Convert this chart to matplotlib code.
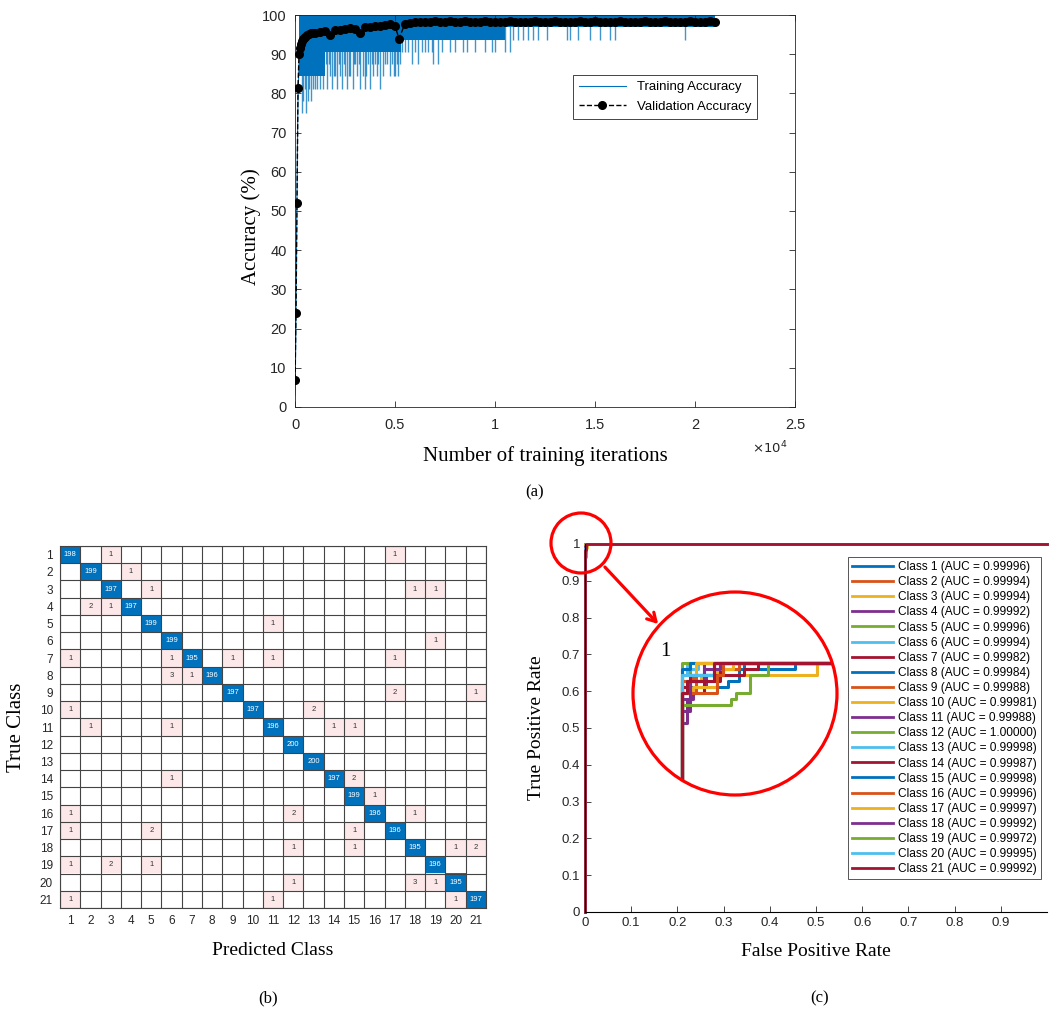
import matplotlib
matplotlib.use("Agg")
import numpy as np
import matplotlib.pyplot as plt
from matplotlib.patches import Ellipse, FancyArrowPatch
from matplotlib.lines import Line2D
from matplotlib.ticker import FuncFormatter

plt.rcParams['font.family'] = ['Liberation Sans', 'DejaVu Sans']
SERIF = ['Liberation Serif', 'DejaVu Serif']
TICK_COLOR = '#262626'
MATLAB_COLORS = ['#0072BD', '#D95319', '#EDB120', '#7E2F8E', '#77AC30', '#4DBEEE', '#A2142F']

# ---------------- (a) training progress ----------------
train_rise_iter = [0, 20, 40, 60, 80, 100, 120, 140, 160, 180, 200]
train_rise_acc = [3, 9, 19, 31, 44, 56, 66, 75, 81, 84, 88]
# dense oscillation band: floor per segment (band reaches up to 100)
band_iter = [200, 1500, 5300, 10500, 21000]
band_floor = [84.4, 90.6, 93.75, 96.9]
# isolated downward spikes of the mini-batch accuracy
spike_iter = [330, 400, 480, 560, 650, 700, 800, 900, 1000, 1100, 1250, 1400, 1600, 1750, 1850,
              2000, 2100, 2250, 2350, 2500, 2600, 2750, 2900, 3000, 3100, 3250, 3400, 3500,
              3650, 3750, 3900, 4000, 4100, 4250, 4400, 4600, 4750, 4850, 5000, 5080, 5150, 5250,
              1550, 1700, 1950, 2200, 2450, 2700, 2950, 3200, 3550, 3850, 4150, 4500, 4950,
              5333, 5500, 5650, 5833, 6000, 6167, 6333, 6500, 6667, 6833, 6917, 7167, 7333, 7750,
              8000, 8417, 8583, 9000, 9500, 9833, 10000, 10500, 10750, 10917, 11167, 11417,
              11667, 11917, 12167, 12583, 13583, 13750, 14167, 14750, 15250, 15750, 16000, 19500]
spike_acc = [75, 78.1, 81.25, 75, 78.1, 81.25, 78.1, 81.25, 81.25, 81.25, 81.25, 81.25, 81.25, 84.4, 81.25,
             84.4, 81.25, 84.4, 81.25, 84.4, 81.25, 84.4, 81.25, 87.5, 84.4, 81.25, 84.4, 81.25,
             87.5, 81.25, 84.4, 87.5, 84.4, 81.25, 84.4, 87.5, 84.4, 87.5, 84.4, 87.5, 84.4, 87.5,
             87.5, 87.5, 84.4, 87.5, 87.5, 84.4, 87.5, 87.5, 84.4, 87.5, 87.5, 87.5, 84.4,
             90.6, 90.6, 90.6, 87.5, 90.6, 87.5, 90.6, 90.6, 90.6, 90.6, 87.5, 87.5, 90.6, 90.6,
             90.6, 90.6, 90.6, 90.6, 90.6, 90.6, 90.6, 90.6, 90.6, 93.75, 93.75, 93.75,
             93.75, 93.75, 93.75, 93.75, 93.75, 93.75, 93.75, 93.75, 93.75, 93.75, 93.75, 93.75]
val_iter = [0, 50, 100, 150, 200, 250, 300, 350, 400, 450, 500, 600, 700, 800, 900, 1000,
            1250, 1500, 1750, 2000, 2250, 2500, 2750, 3000, 3250, 3500, 3750, 4000, 4250,
            4500, 4750, 5000, 5200, 5500, 5750, 6000, 6250, 6500, 6750, 7000, 7250, 7500,
            7750, 8000, 8250, 8500, 8750, 9000, 9250, 9500, 9750, 10000, 10250, 10500, 10750,
            11000, 11250, 11500, 11750, 12000, 12250, 12500, 12750, 13000, 13250, 13500,
            13750, 14000, 14250, 14500, 14750, 15000, 15250, 15500, 15750, 16000, 16250,
            16500, 16750, 17000, 17250, 17500, 17750, 18000, 18250, 18500, 18750, 19000,
            19250, 19500, 19750, 20000, 20250, 20500, 20750, 21000]
val_acc = [7, 24, 52, 81.5, 90, 91.5, 92.5, 93.3, 93.8, 94.2, 94.5, 94.9, 95.1, 95.3, 95.4, 95.5,
           95.7, 95.9, 94.8, 96.1, 96.3, 96.5, 96.6, 96.4, 95.3, 96.9, 97.0, 97.1, 97.3,
           97.4, 97.6, 97.2, 94.0, 97.8, 98.0, 98.1, 98.2, 98.3, 98.2, 98.4, 98.3, 98.3,
           98.4, 98.2, 98.3, 98.4, 98.3, 98.2, 98.3, 98.4, 98.3, 98.3, 98.2, 98.3, 98.4,
           98.3, 98.2, 98.3, 98.3, 98.4, 98.3, 98.2, 98.3, 98.4, 98.3, 98.3, 98.2, 98.3,
           98.4, 98.3, 98.3, 98.4, 98.3, 98.2, 98.3, 98.3, 98.4, 98.3, 98.3, 98.2, 98.3,
           98.4, 98.3, 98.3, 98.3, 98.4, 98.3, 98.2, 98.3, 98.3, 98.4, 98.3, 98.3, 98.3,
           98.4, 98.3]

# ---------------- (b) confusion matrix ----------------
class_labels = [str(i) for i in range(1, 22)]
cm_diag = [198, 199, 197, 197, 199, 199, 195, 196, 197, 197, 196, 200, 200, 197, 199, 196,
           196, 195, 196, 195, 197]
cm_off_row = [1, 1, 2, 3, 3, 3, 4, 4, 5, 6, 7, 7, 7, 7, 7, 8, 8, 9, 9, 10, 10, 11, 11, 11, 11,
              14, 14, 15, 16, 16, 16, 17, 17, 17, 18, 18, 18, 18, 19, 19, 19, 20, 20, 20,
              21, 21, 21]
cm_off_col = [3, 17, 4, 5, 18, 19, 2, 3, 11, 19, 1, 6, 9, 11, 17, 6, 7, 17, 21, 1, 13, 2, 6, 14, 15,
              6, 15, 16, 1, 12, 18, 1, 5, 15, 12, 15, 20, 21, 1, 3, 5, 12, 18, 19,
              1, 11, 20]
cm_off_val = [1, 1, 1, 1, 1, 1, 2, 1, 1, 1, 1, 1, 1, 1, 1, 3, 1, 2, 1, 1, 2, 1, 1, 1, 1,
              1, 2, 1, 1, 2, 1, 1, 2, 1, 1, 1, 1, 2, 1, 2, 1, 1, 3, 1,
              1, 1, 1]

# ---------------- (c) ROC curves (jump points) ----------------
roc_auc = [0.99996, 0.99994, 0.99994, 0.99992, 0.99996, 0.99994, 0.99982, 0.99984, 0.99988,
           0.99981, 0.99988, 1.00000, 0.99998, 0.99987, 0.99998, 0.99996, 0.99997, 0.99992,
           0.99972, 0.99995, 0.99992]
roc_fpr = [[0, 0.0017, 0.0021, 0.0042, 1],
           [0, 0.0005, 0.0012, 1],
           [0, 0.0007, 0.005, 1],
           [0, 0.0002, 0.0004, 0.0009, 0.0012, 1],
           [0, 0.0003, 1],
           [0, 0.0002, 1],
           [0, 0.0008, 0.0014, 1],
           [0, 0.0015, 0.0023, 1],
           [0, 0.0004, 0.0015, 0.0021, 1],
           [0, 0.0004, 0.0013, 0.0019, 1],
           [0, 0.0003, 0.0008, 1],
           [0, 1],
           [0, 0.0006, 1],
           [0, 0.0003, 0.0023, 0.0028, 1],
           [0, 0.0003, 1],
           [0, 0.0013, 0.0015, 1],
           [0, 0.0005, 1],
           [0, 0.0003, 0.0008, 0.0014, 1],
           [0, 0.0018, 0.002, 0.0025, 0.0032, 1],
           [0, 0.0012, 1],
           [0, 0.0002, 0.0012, 1]]
roc_tpr = [[0.98, 0.985, 0.995, 1, 1],
           [0.975, 0.99, 1, 1],
           [0.985, 0.99, 1, 1],
           [0.95, 0.97, 0.98, 0.99, 1, 1],
           [0.985, 1, 1],
           [0.99, 1, 1],
           [0.975, 0.985, 1, 1],
           [0.99, 0.995, 1, 1],
           [0.985, 0.99, 0.995, 1, 1],
           [0.975, 0.98, 0.995, 1, 1],
           [0.97, 0.985, 1, 1],
           [1, 1],
           [0.995, 1, 1],
           [0.98, 0.99, 0.995, 1, 1],
           [0.995, 1, 1],
           [0.975, 0.99, 1, 1],
           [0.99, 1, 1],
           [0.96, 0.985, 0.995, 1, 1],
           [0.965, 0.97, 0.975, 0.99, 1, 1],
           [0.99, 1, 1],
           [0.975, 0.985, 1, 1]]

W, H = 1049, 1017
fig = plt.figure(figsize=(W / 100, H / 100), dpi=100)


def fbox(x0, y0, x1, y1):
    # pixel box (top-left origin) -> figure fraction rect
    return [x0 / W, 1 - y1 / H, (x1 - x0) / W, (y1 - y0) / H]


# ===== (a) =====
ax1 = fig.add_axes(fbox(295, 15, 795, 407))
ax1.fill_between(band_iter, band_floor + [band_floor[-1]], 100, step='post',
                 color='#0072BD', linewidth=0, zorder=1)
ax1.vlines(spike_iter, spike_acc, 100, color='#0072BD', linewidth=1.0, alpha=0.75, zorder=1)
ax1.plot(train_rise_iter, train_rise_acc, color='#0072BD', linewidth=0.8, zorder=1)
ax1.plot(val_iter, val_acc, color='black', linestyle='--', linewidth=1.0,
         marker='o', markersize=5.5, zorder=3)
ax1.set_xlim(0, 25000)
ax1.set_ylim(0, 100)
ax1.set_yticks(np.arange(0, 101, 10))
ax1.set_xticks(np.arange(0, 25001, 5000))
ax1.xaxis.set_major_formatter(FuncFormatter(lambda v, p: '%g' % (v / 1e4)))
ax1.tick_params(direction='in', top=True, right=True, labelsize=10.5, colors=TICK_COLOR,
                length=4, width=0.6)
ax1.tick_params(axis='x', pad=8)
ax1.tick_params(axis='y', pad=6)
for s in ax1.spines.values():
    s.set_color('#262626')
    s.set_linewidth(0.6)
fig.text(770 / W, 1 - 448 / H, r'$\times10^{4}$', fontsize=9.5, color=TICK_COLOR,
         ha='center', va='center')
ax1.set_ylabel('Accuracy (%)', family=SERIF, fontsize=15)
ax1.yaxis.set_label_coords(-0.068, 0.46)
ax1.set_xlabel('Number of training iterations', family=SERIF, fontsize=15, labelpad=10)
h_train = Line2D([], [], color='#0072BD', linewidth=0.8)
h_val = Line2D([], [], color='black', linestyle='--', linewidth=1.0, marker='o', markersize=5.5)
leg1 = ax1.legend([h_train, h_val], ['Training Accuracy', 'Validation Accuracy'],
                  loc='upper right', bbox_to_anchor=(0.924, 0.847), fontsize=9.5,
                  fancybox=False, edgecolor='#262626', framealpha=1, handlelength=3.6,
                  borderpad=0.45, labelspacing=0.55, borderaxespad=0)
leg1.get_frame().set_linewidth(0.6)

# ===== (b) =====
ax2 = fig.add_axes(fbox(60, 546, 486, 908))
n = len(class_labels)
rgb = np.ones((n, n, 3))
pink = np.array([252, 232, 232]) / 255
blue = np.array([0, 114, 189]) / 255
for r, c in zip(cm_off_row, cm_off_col):
    rgb[r - 1, c - 1] = pink
for i in range(n):
    rgb[i, i] = blue
ax2.imshow(rgb, aspect='auto', interpolation='nearest')
for i, v in enumerate(cm_diag):
    ax2.text(i, i, str(v), ha='center', va='center', color='white', fontsize=5.5)
for r, c, v in zip(cm_off_row, cm_off_col, cm_off_val):
    ax2.text(c - 1, r - 1, str(v), ha='center', va='center', color='#333333', fontsize=5.5)
for k in range(n + 1):
    ax2.axhline(k - 0.5, color='#444444', linewidth=0.8)
    ax2.axvline(k - 0.5, color='#444444', linewidth=0.8)
ax2.set_xticks(range(n))
ax2.set_yticks(range(n))
ax2.set_xticklabels(class_labels)
ax2.set_yticklabels(class_labels)
ax2.tick_params(length=0, labelsize=8.5, colors=TICK_COLOR, pad=5)
for s in ax2.spines.values():
    s.set_color('#444444')
ax2.set_ylabel('True Class', family=SERIF, fontsize=15, labelpad=10)
ax2.set_xlabel('Predicted Class', family=SERIF, fontsize=14, labelpad=11)

# ===== (c) =====
ax3 = fig.add_axes(fbox(585, 544, 1047, 912))
inset_box = fbox(633, 592, 837, 795)
big_circle = Ellipse((735 / W, 1 - 693.5 / H), 204 / W, 203 / H, transform=fig.transFigure,
                     fill=False, edgecolor='red', linewidth=2.3, zorder=10)
axin = fig.add_axes(inset_box)
axin.set_facecolor('none')
for k in range(n):
    col = MATLAB_COLORS[k % 7]
    xs = [0] + roc_fpr[k]
    ys = [0] + roc_tpr[k]
    lab = 'Class %d (AUC = %.5f)' % (k + 1, roc_auc[k])
    ax3.plot(xs, ys, drawstyle='steps-post', color=col, linewidth=2.0, clip_on=False,
             label=lab)
    ln, = axin.plot(xs, ys, drawstyle='steps-post', color=col, linewidth=2.2)
    ln.set_clip_path(big_circle)
ax3.set_xlim(0, 1)
ax3.set_ylim(0, 1)
ax3.set_xticks(np.round(np.arange(0, 0.91, 0.1), 1))
ax3.set_yticks(np.round(np.arange(0, 1.01, 0.1), 1))
ax3.set_xticklabels(['0'] + ['%.1f' % v for v in np.arange(0.1, 0.91, 0.1)])
ax3.set_yticklabels(['0'] + ['%.1f' % v for v in np.arange(0.1, 0.91, 0.1)] + ['1'])
ax3.tick_params(direction='in', labelsize=9.5, colors=TICK_COLOR, length=4, width=0.6)
ax3.spines['top'].set_visible(False)
ax3.spines['right'].set_visible(False)
ax3.set_xlabel('False Positive Rate', family=SERIF, fontsize=14, labelpad=10)
ax3.set_ylabel('True Positive Rate', family=SERIF, fontsize=14, labelpad=12)
leg3 = ax3.legend(loc='upper left', bbox_to_anchor=(848 / W, 1 - 557 / H),
                  bbox_transform=fig.transFigure, fontsize=8.6, fancybox=False,
                  edgecolor='#555555', framealpha=1, handlelength=3.4, handletextpad=0.4,
                  labelspacing=0.26, borderpad=0.35, borderaxespad=0)
leg3.get_frame().set_linewidth(0.7)

# inset zoom
axin.set_xlim(-(682 - 633) / 27000, (837 - 682) / 27000)
axin.set_ylim(1 - (795 - 663) / 1200, 1 + (663 - 592) / 1200)
axin.set_xticks([])
axin.set_yticks([])
for s in axin.spines.values():
    s.set_visible(False)
fig.text(665 / W, 1 - 652 / H, '1', family=SERIF, fontsize=15, ha='center', va='center')
fig.patches.append(big_circle)
small_circle = Ellipse((581 / W, 1 - 543 / H), 60 / W, 60 / H, transform=fig.transFigure,
                       fill=False, edgecolor='red', linewidth=2.3, zorder=10)
fig.patches.append(small_circle)
arrow = FancyArrowPatch((603 / W, 1 - 565 / H), (660 / W, 1 - 626 / H),
                        transform=fig.transFigure, arrowstyle='->,head_length=6,head_width=3.5',
                        color='red', linewidth=2.3, zorder=10)
fig.patches.append(arrow)

# captions
fig.text(535 / W, 1 - 492 / H, '(a)', family=SERIF, fontsize=12, ha='center', va='center')
fig.text(268 / W, 1 - 998 / H, '(b)', family=SERIF, fontsize=12, ha='center', va='center')
fig.text(820 / W, 1 - 998 / H, '(c)', family=SERIF, fontsize=12, ha='center', va='center')

fig.savefig('out.png', dpi=100)
